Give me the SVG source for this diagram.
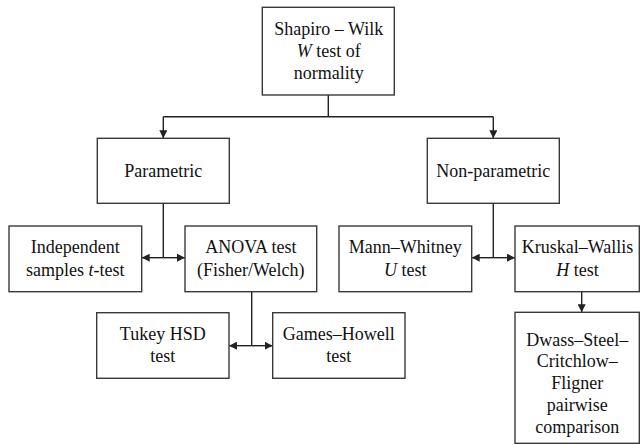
<svg xmlns="http://www.w3.org/2000/svg" width="642" height="445" viewBox="0 0 642 445">
<defs>
<marker id="ah" viewBox="0 0 8 8" refX="8" refY="4" markerWidth="8" markerHeight="8" markerUnits="userSpaceOnUse" orient="auto">
<path d="M0,0 L8,4 L0,8 z" fill="#222"/>
</marker>
<style>
.box{fill:#fff;stroke:#3a3a3a;stroke-width:1.4}
.t{font-family:"Liberation Serif","Times New Roman",serif;font-size:18px;fill:#111;text-anchor:middle}
.i{font-style:italic}
.c{fill:none;stroke:#222;stroke-width:1.4}
.a{marker-end:url(#ah)}
</style>
</defs>
<rect width="642" height="445" fill="#fff"/>
<g id="connectors">
<path class="c" d="M328.3,95 V116.7 M163.3,116.7 H493.3"/>
<path class="c a" d="M163.3,116.7 V138.3"/>
<path class="c a" d="M493.3,116.7 V138.3"/>
<path class="c" d="M163.3,203.3 V257.7"/>
<path class="c a" d="M163.3,257.7 H141.7"/>
<path class="c a" d="M163.3,257.7 H185"/>
<path class="c" d="M493.3,203.3 V257.7"/>
<path class="c a" d="M493.3,257.7 H471.7"/>
<path class="c a" d="M493.3,257.7 H515"/>
<path class="c" d="M251.7,291.7 V345.7"/>
<path class="c a" d="M251.7,345.7 H229"/>
<path class="c a" d="M251.7,345.7 H272.7"/>
<path class="c a" d="M581.7,291.7 V312.3"/>
</g>
<g id="shapiro">
<rect class="box" x="262.3" y="7.3" width="132" height="87.7"/>
<text class="t" x="328.8" y="35">Shapiro – Wilk</text>
<text class="t" x="328.8" y="57.3"><tspan class="i">W</tspan> test of</text>
<text class="t" x="328.8" y="79.3">normality</text>
</g>
<g id="parametric">
<rect class="box" x="97.3" y="138.3" width="132" height="65"/>
<text class="t" x="163.3" y="176.7">Parametric</text>
</g>
<g id="nonparametric">
<rect class="box" x="427.3" y="138.3" width="132" height="65"/>
<text class="t" x="493.3" y="176.7">Non-parametric</text>
</g>
<g id="independent">
<rect class="box" x="9" y="226" width="132.7" height="65.7"/>
<text class="t" x="75.3" y="253.3">Independent</text>
<text class="t" x="75.3" y="275.7">samples <tspan class="i">t</tspan>-test</text>
</g>
<g id="anova">
<rect class="box" x="185" y="226" width="131.7" height="65.7"/>
<text class="t" x="250.8" y="253.3">ANOVA test</text>
<text class="t" x="250.8" y="275.7">(Fisher/Welch)</text>
</g>
<g id="mannwhitney">
<rect class="box" x="339" y="226" width="132.7" height="65.7"/>
<text class="t" x="405.3" y="253.3">Mann–Whitney</text>
<text class="t" x="405.3" y="275.7"><tspan class="i">U</tspan> test</text>
</g>
<g id="kruskal">
<rect class="box" x="515" y="226" width="124.3" height="65.7"/>
<text class="t" x="577.5" y="253.3">Kruskal–Wallis</text>
<text class="t" x="577.5" y="275.7"><tspan class="i">H</tspan> test</text>
</g>
<g id="tukey">
<rect class="box" x="96.7" y="312.7" width="132.3" height="65.6"/>
<text class="t" x="162.8" y="340">Tukey HSD</text>
<text class="t" x="162.8" y="362.3">test</text>
</g>
<g id="gameshowell">
<rect class="box" x="272.7" y="312.7" width="132.3" height="65.6"/>
<text class="t" x="338.8" y="340">Games–Howell</text>
<text class="t" x="338.8" y="362.3">test</text>
</g>
<g id="dwass">
<rect class="box" x="515" y="312.3" width="124.3" height="131"/>
<text class="t" x="577.2" y="345.7">Dwass–Steel–</text>
<text class="t" x="577.2" y="367.3">Critchlow–</text>
<text class="t" x="577.2" y="389.3">Fligner</text>
<text class="t" x="577.2" y="411">pairwise</text>
<text class="t" x="577.2" y="432.7">comparison</text>
</g>
</svg>
